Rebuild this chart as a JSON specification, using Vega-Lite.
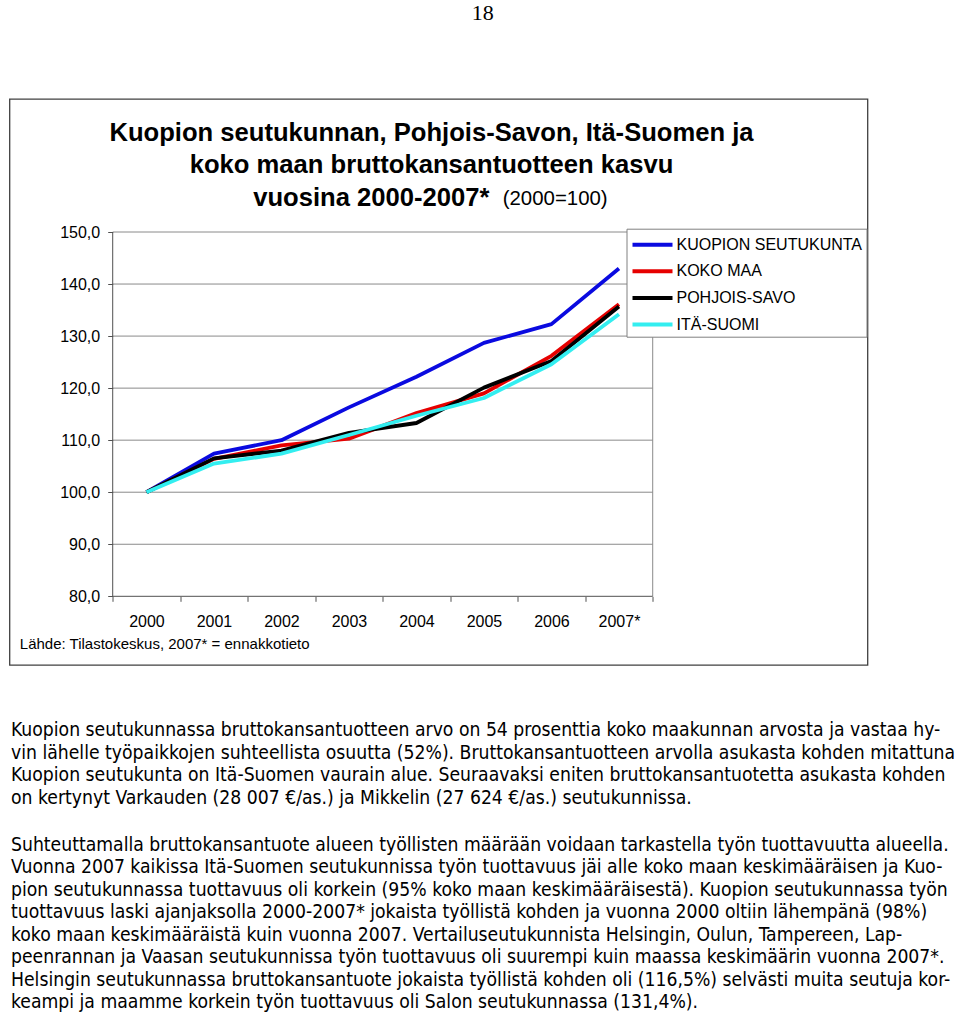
{
  "$schema": "https://vega.github.io/schema/vega-lite/v6.json",
  "background": "white",
  "padding": {"left": 8.5, "top": 2, "right": 0, "bottom": 0},
  "autosize": {"type": "pad"},
  "title": {"text": "18", "font": "Liberation Serif", "fontSize": 22, "fontWeight": "normal", "color": "black", "anchor": "middle", "offset": 73},
  "datasets": {
    "series": [
      {"year": "2000", "t": 2000, "region": "KUOPION SEUTUKUNTA", "index": 100.0},
      {"year": "2001", "t": 2001, "region": "KUOPION SEUTUKUNTA", "index": 107.4},
      {"year": "2002", "t": 2002, "region": "KUOPION SEUTUKUNTA", "index": 110.0},
      {"year": "2003", "t": 2003, "region": "KUOPION SEUTUKUNTA", "index": 116.3},
      {"year": "2004", "t": 2004, "region": "KUOPION SEUTUKUNTA", "index": 122.2},
      {"year": "2005", "t": 2005, "region": "KUOPION SEUTUKUNTA", "index": 128.7},
      {"year": "2006", "t": 2006, "region": "KUOPION SEUTUKUNTA", "index": 132.3},
      {"year": "2007*", "t": 2007, "region": "KUOPION SEUTUKUNTA", "index": 143.0},
      {"year": "2000", "t": 2000, "region": "KOKO MAA", "index": 100.0},
      {"year": "2001", "t": 2001, "region": "KOKO MAA", "index": 106.4},
      {"year": "2002", "t": 2002, "region": "KOKO MAA", "index": 109.0},
      {"year": "2003", "t": 2003, "region": "KOKO MAA", "index": 110.3},
      {"year": "2004", "t": 2004, "region": "KOKO MAA", "index": 115.2},
      {"year": "2005", "t": 2005, "region": "KOKO MAA", "index": 119.0},
      {"year": "2006", "t": 2006, "region": "KOKO MAA", "index": 126.2},
      {"year": "2007*", "t": 2007, "region": "KOKO MAA", "index": 136.1},
      {"year": "2000", "t": 2000, "region": "POHJOIS-SAVO", "index": 100.0},
      {"year": "2001", "t": 2001, "region": "POHJOIS-SAVO", "index": 106.5},
      {"year": "2002", "t": 2002, "region": "POHJOIS-SAVO", "index": 108.0},
      {"year": "2003", "t": 2003, "region": "POHJOIS-SAVO", "index": 111.4},
      {"year": "2004", "t": 2004, "region": "POHJOIS-SAVO", "index": 113.3},
      {"year": "2005", "t": 2005, "region": "POHJOIS-SAVO", "index": 120.1},
      {"year": "2006", "t": 2006, "region": "POHJOIS-SAVO", "index": 125.2},
      {"year": "2007*", "t": 2007, "region": "POHJOIS-SAVO", "index": 135.7},
      {"year": "2000", "t": 2000, "region": "ITÄ-SUOMI", "index": 100.0},
      {"year": "2001", "t": 2001, "region": "ITÄ-SUOMI", "index": 105.5},
      {"year": "2002", "t": 2002, "region": "ITÄ-SUOMI", "index": 107.4},
      {"year": "2003", "t": 2003, "region": "ITÄ-SUOMI", "index": 111.0},
      {"year": "2004", "t": 2004, "region": "ITÄ-SUOMI", "index": 114.7},
      {"year": "2005", "t": 2005, "region": "ITÄ-SUOMI", "index": 118.1},
      {"year": "2006", "t": 2006, "region": "ITÄ-SUOMI", "index": 124.6},
      {"year": "2007*", "t": 2007, "region": "ITÄ-SUOMI", "index": 134.2}
    ],
    "grid": [
      {"value": 90}, {"value": 100}, {"value": 110}, {"value": 120},
      {"value": 130}, {"value": 140}, {"value": 150}
    ],
    "para1": [
      {"line": 1, "text": "Kuopion seutukunnassa bruttokansantuotteen arvo on 54 prosenttia koko maakunnan arvosta ja vastaa hy-"},
      {"line": 2, "text": "vin lähelle työpaikkojen suhteellista osuutta (52%). Bruttokansantuotteen arvolla asukasta kohden mitattuna"},
      {"line": 3, "text": "Kuopion seutukunta on Itä-Suomen vaurain alue. Seuraavaksi eniten bruttokansantuotetta asukasta kohden"},
      {"line": 4, "text": "on kertynyt Varkauden (28 007 €/as.) ja Mikkelin (27 624 €/as.) seutukunnissa."}
    ],
    "para2": [
      {"line": 1, "text": "Suhteuttamalla bruttokansantuote alueen työllisten määrään voidaan tarkastella työn tuottavuutta alueella."},
      {"line": 2, "text": "Vuonna 2007 kaikissa Itä-Suomen seutukunnissa työn tuottavuus jäi alle koko maan keskimääräisen ja Kuo-"},
      {"line": 3, "text": "pion seutukunnassa tuottavuus oli korkein (95% koko maan keskimääräisestä). Kuopion seutukunnassa työn"},
      {"line": 4, "text": "tuottavuus laski ajanjaksolla 2000-2007* jokaista työllistä kohden ja vuonna 2000 oltiin lähempänä (98%)"},
      {"line": 5, "text": "koko maan keskimääräistä kuin vuonna 2007. Vertailuseutukunnista Helsingin, Oulun, Tampereen, Lap-"},
      {"line": 6, "text": "peenrannan ja Vaasan seutukunnissa työn tuottavuus oli suurempi kuin maassa keskimäärin vuonna 2007*."},
      {"line": 7, "text": "Helsingin seutukunnassa bruttokansantuote jokaista työllistä kohden oli (116,5%) selvästi muita seutuja kor-"},
      {"line": 8, "text": "keampi ja maamme korkein työn tuottavuus oli Salon seutukunnassa (131,4%)."}
    ]
  },
  "spacing": 52.5,
  "vconcat": [
    {
      "width": 858,
      "height": 566,
      "view": {"stroke": "#404040", "strokeWidth": 1.3, "fill": "white"},
      "title": {
        "text": ["Kuopion seutukunnan, Pohjois-Savon, Itä-Suomen ja", "koko maan bruttokansantuotteen kasvu"],
        "anchor": "middle",
        "dx": -7,
        "offset": -80,
        "font": "Liberation Sans",
        "fontSize": 25.6,
        "fontWeight": "bold",
        "lineHeight": 32,
        "color": "black"
      },
      "layer": [
        {
          "data": {"name": "grid"},
          "mark": {"type": "rule", "color": "#8a8a8a", "strokeWidth": 1},
          "encoding": {
            "y": {"field": "value", "type": "quantitative", "scale": {"domain": [66.799, 175.556], "nice": false, "zero": false}},
            "x": {"datum": 1999.5, "type": "quantitative", "scale": {"domain": [1997.971, 2010.682], "nice": false, "zero": false}},
            "x2": {"datum": 2007.5}
          }
        },
        {
          "data": {"values": [{}]},
          "mark": {"type": "rule", "color": "#8a8a8a", "strokeWidth": 1},
          "encoding": {
            "x": {"datum": 2007.5, "type": "quantitative"},
            "y": {"datum": 80, "type": "quantitative"},
            "y2": {"datum": 150}
          }
        },
        {
          "data": {"values": [{}]},
          "mark": {"type": "rule", "color": "#505050", "strokeWidth": 1},
          "encoding": {
            "x": {"datum": 1999.5, "type": "quantitative"},
            "y": {"datum": 80, "type": "quantitative"},
            "y2": {"datum": 150}
          }
        },
        {
          "data": {"values": [{}]},
          "mark": {"type": "rule", "color": "#505050", "strokeWidth": 1},
          "encoding": {
            "x": {"datum": 1999.5, "type": "quantitative"},
            "x2": {"datum": 2007.5},
            "y": {"datum": 80, "type": "quantitative"}
          }
        },
        {
          "data": {"values": [{"note": "(2000=100)"}]},
          "mark": {"type": "text", "align": "left", "baseline": "alphabetic", "font": "Liberation Sans", "fontSize": 20.4, "color": "black"},
          "encoding": {
            "x": {"datum": 2005.278, "type": "quantitative"},
            "y": {"datum": 155.13, "type": "quantitative"},
            "text": {"field": "note"}
          }
        },
        {
          "data": {"name": "series"},
          "mark": {"type": "line", "strokeWidth": 3.8, "strokeJoin": "round"},
          "encoding": {
            "x": {
              "field": "t", "type": "quantitative",
              "scale": {"domain": [1997.971, 2010.682], "nice": false, "zero": false},
              "axis": {
                "orient": "bottom", "offset": -68.7,
                "values": [1999.5, 2000.5, 2001.5, 2002.5, 2003.5, 2004.5, 2005.5, 2006.5, 2007.5],
                "domain": false, "grid": false,
                "ticks": true, "tickSize": 5, "tickColor": "#505050", "tickWidth": 1,
                "labelOffset": 33.75,
                "labelExpr": "datum.value < 2006 ? toString(datum.value + 0.5) : (datum.value < 2007 ? '2007*' : '')",
                "labelFont": "Liberation Sans", "labelFontSize": 16, "labelColor": "black",
                "labelPadding": 12, "labelOverlap": false, "labelFlush": false, "labelBound": false,
                "title": "Lähde: Tilastokeskus, 2007* = ennakkotieto",
                "titleX": 9.8, "titleY": 47.4, "titleAlign": "left", "titleAnchor": "start", "titleBaseline": "middle",
                "titleFont": "Liberation Sans", "titleFontSize": 15, "titleFontWeight": "normal", "titleColor": "black"
              }
            },
            "y": {
              "field": "index", "type": "quantitative",
              "scale": {"domain": [66.799, 175.556], "nice": false, "zero": false},
              "axis": {
                "orient": "left", "offset": -103.2,
                "values": [80, 90, 100, 110, 120, 130, 140, 150],
                "domain": false, "grid": false,
                "ticks": true, "tickSize": 5, "tickColor": "#505050", "tickWidth": 1,
                "labelExpr": "replace(format(datum.value, '.1f'), '.', ',')",
                "labelFont": "Liberation Sans", "labelFontSize": 16, "labelColor": "black",
                "labelPadding": 8, "labelOverlap": false, "labelBound": false,
                "title": "vuosina 2000-2007*",
                "titleAngle": 0, "titleX": 140, "titleY": 106.3,
                "titleAlign": "left", "titleBaseline": "alphabetic",
                "titleFont": "Liberation Sans", "titleFontSize": 25.6, "titleFontWeight": "bold", "titleColor": "black"
              }
            },
            "color": {
              "field": "region", "type": "nominal",
              "scale": {
                "domain": ["KUOPION SEUTUKUNTA", "KOKO MAA", "POHJOIS-SAVO", "ITÄ-SUOMI"],
                "range": ["#0a0ae0", "#e60000", "#000000", "#33eef0"]
              },
              "legend": {
                "title": null,
                "orient": "none",
                "legendX": 617,
                "legendY": 129.7,
                "symbolType": "M-1,0H3",
                "symbolSize": 400,
                "symbolStrokeWidth": 4,
                "symbolFillColor": "transparent",
                "labelOffset": 22,
                "labelFont": "Liberation Sans",
                "labelFontSize": 16,
                "labelColor": "black",
                "labelLimit": 400,
                "padding": 4,
                "rowPadding": 6.6,
                "strokeColor": "#808080",
                "fillColor": "white"
              }
            }
          }
        }
      ]
    },
    {
      "spacing": 24.3,
      "vconcat": [
        {
          "data": {"name": "para1"},
          "width": 947,
          "height": {"step": 22.7},
          "mark": {"type": "text", "align": "left", "baseline": "middle", "font": "'Liberation Sans Narrow', 'DejaVu Sans Condensed', sans-serif", "fontSize": 19.2, "dx": 1.5, "color": "black"},
          "encoding": {
            "x": {"datum": 0, "type": "quantitative", "scale": {"domain": [0, 1]}, "axis": null},
            "y": {"field": "line", "type": "ordinal", "axis": null},
            "text": {"field": "text"}
          }
        },
        {
          "data": {"name": "para2"},
          "width": 947,
          "height": {"step": 22.45},
          "mark": {"type": "text", "align": "left", "baseline": "middle", "font": "'Liberation Sans Narrow', 'DejaVu Sans Condensed', sans-serif", "fontSize": 19.2, "dx": 1.5, "color": "black"},
          "encoding": {
            "x": {"datum": 0, "type": "quantitative", "scale": {"domain": [0, 1]}, "axis": null},
            "y": {"field": "line", "type": "ordinal", "axis": null},
            "text": {"field": "text"}
          }
        }
      ]
    }
  ],
  "config": {
    "font": "Liberation Sans",
    "view": {"stroke": null}
  }
}
